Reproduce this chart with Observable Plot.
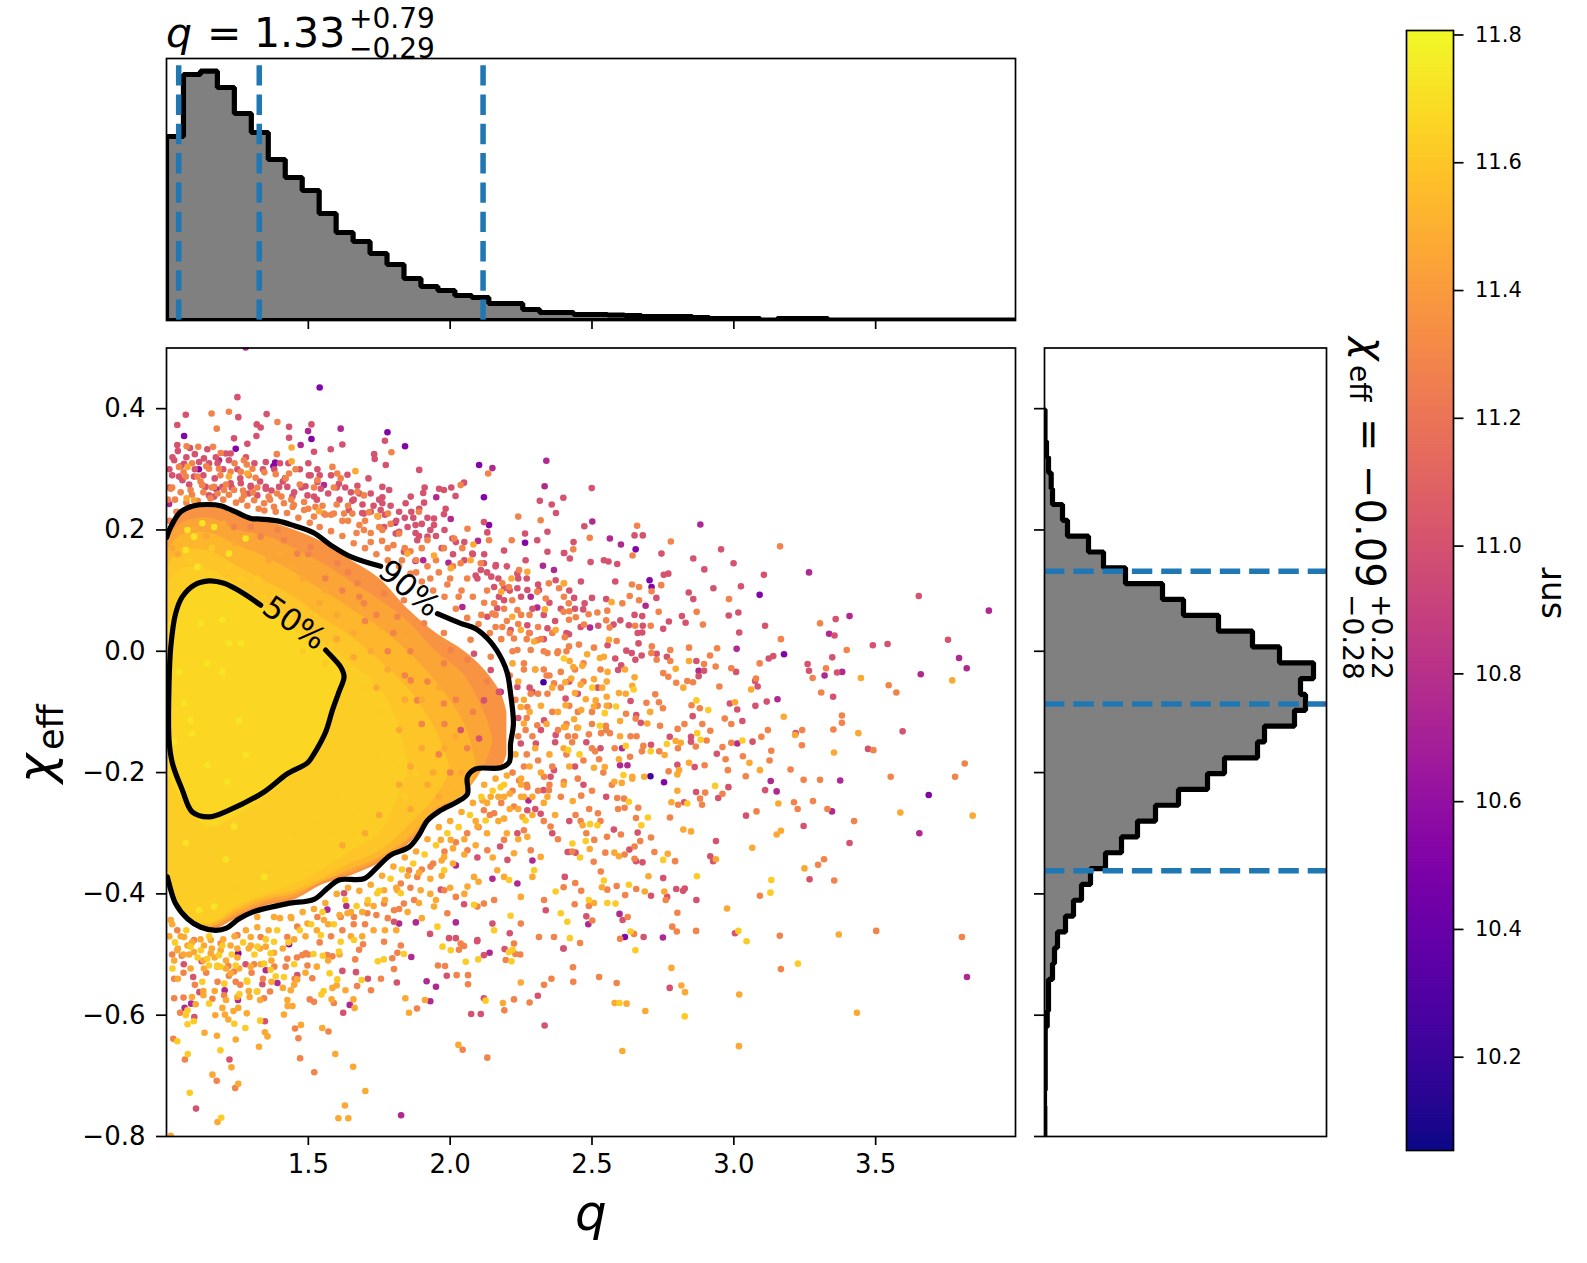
<!DOCTYPE html>
<html>
<head>
<meta charset="utf-8">
<script src="https://cdn.jsdelivr.net/npm/d3@7"></script>
<script src="https://cdn.jsdelivr.net/npm/@observablehq/plot@0.6"></script>
<style>
  html, body { margin: 0; background: #fff; }
  #page { position: relative; width: 1587px; height: 1263px; overflow: hidden; font-family: "DejaVu Sans"; }
  #page > svg, #page > div { position: absolute; }
  #page > div > svg { display: block; }
  #notes { left: 0; top: 0; pointer-events: none; }
  #notes text { font-family: "DejaVu Sans"; fill: #000; }
</style>
</head>
<body>
<div id="page">
  <div id="top" style="left:0;top:40px"></div>
  <div id="main" style="left:0;top:330px"></div>
  <div id="side" style="left:1030px;top:330px"></div>
  <div id="bar" style="left:1380px;top:0"></div>
  <svg id="notes" width="1587" height="1263">
    <text x="166" y="47" font-size="41" font-style="italic">q</text>
    <text x="207" y="47" font-size="41">=</text>
    <text x="254" y="47" font-size="41">1.33</text>
    <text x="349" y="28" font-size="28">+0.79</text>
    <text x="349" y="58" font-size="28">−0.29</text>
    <text transform="translate(1357,337) rotate(90)" font-size="40" font-style="italic">χ</text>
    <text transform="translate(1350,365) rotate(90)" font-size="28">eff</text>
    <text transform="translate(1356,418) rotate(90)" font-size="40">=</text>
    <text transform="translate(1356,465) rotate(90)" font-size="40">−0.09</text>
    <text transform="translate(1372,594) rotate(90)" font-size="28">+0.22</text>
    <text transform="translate(1343,594) rotate(90)" font-size="28">−0.28</text>
    <text transform="translate(53,783) rotate(-90)" font-size="50" font-style="italic">χ</text>
    <text transform="translate(63,750) rotate(-90)" font-size="35">eff</text>
    <text x="575" y="1230" font-size="50" font-style="italic">q</text>
    <text transform="translate(1561,619) rotate(-90)" font-size="33">snr</text>
  </svg>
</div>
<script>
// histogram heights (arbitrary count units)
const qBinStart = 1.0;
const qBinWidth = 0.0598;
const qCounts = [184,246,249.3,233,207,188,161,143,130,107,88,79,67,56,42,34,30,25,23,17,17,11,8,8,6,6,5.5,5,4,4,4,3,2,2,2,.5,2,2,2,.5,.5,.5,.5,.5,.5,.3,.3,.3,.3,.3];
const chiBinStart = 0.3986;
const chiBinWidth = 0.0261;
const chiCounts = [.5,.5,2,4,6.7,8,18,23,44,59,81,118,139,174,208,235,269,256,261,250,220,213,180,163,134,111,93,77,61,46,37,29,21,13,10,8,4,4,2.7,.7,.7,.7,.7,0,.3,.3];
const qLines = [1.043,1.327,2.116];
const chiLines = [.132,-.087,-.362];

const qTicks = [1.5,2,2.5,3,3.5];
const chiTicks = [.4,.2,0,-.2,-.4,-.6,-.8];
const snrTicks = [10.2,10.4,10.6,10.8,11,11.2,11.4,11.6,11.8];
const snrDomain = [10.054,11.807];

// contours, null = gap left for the label
const c90q = [1.001,1.015,1.05,1.097,1.144,1.191,1.238,1.297,1.332,1.391,1.45,1.52,1.579,1.649,1.755,null,1.955,2.037,2.09,2.143,2.184,2.202,2.213,2.223,2.213,2.208,2.178,2.09,2.061,2.061,2.025,1.967,1.92,1.89,1.855,1.79,1.743,1.696,1.608,1.567,1.52,1.426,1.303,1.256,1.209,1.173,1.121,1.074,1.032,1.009,1.003];
const c90chi = [.188,.205,.23,.24,.242,.24,.231,.219,.218,.215,.207,.195,.175,.156,.14,null,.062,.046,.037,.015,-.015,-.037,-.07,-.119,-.152,-.183,-.192,-.194,-.207,-.235,-.248,-.262,-.279,-.303,-.323,-.336,-.356,-.375,-.377,-.391,-.409,-.416,-.43,-.441,-.457,-.46,-.455,-.441,-.416,-.383,-.372];
const c50q = [1.332,1.262,1.203,1.15,1.097,1.056,1.032,1.015,1.009,1.009,1.021,1.056,1.091,1.15,1.215,1.344,1.426,1.497,1.52,1.561,1.585,1.608,1.626,1.614,1.567,1.561];
const c50chi = [.076,.098,.112,.116,.109,.09,.062,.007,-.053,-.147,-.185,-.229,-.265,-.273,-.263,-.232,-.202,-.184,-.169,-.133,-.097,-.067,-.042,-.026,-.001,.002];
const labelText = ["50%","90%"];
const labelQ = [1.45,1.855];
const labelChi = [.046,.103];
const labelAngle = [35,40];

// the solid core of the cloud, by colour
const bandSnr = [11.36,11.45,11.53,11.59,11.63,11.67];
const bandQ = [
  [1,1.05,1.15,1.25,1.35,1.45,1.55,1.65,1.75,1.85,1.95,2.05,2.12,2.18,2.2],
  [1,1.05,1.15,1.25,1.35,1.45,1.55,1.65,1.75,1.85,1.95,2.05,2.12,2.15],
  [1,1.05,1.15,1.25,1.35,1.45,1.55,1.65,1.75,1.85,1.95,2.05,2.09],
  [1,1.05,1.15,1.25,1.35,1.45,1.55,1.65,1.75,1.85,1.95,2],
  [1,1.05,1.15,1.25,1.35,1.45,1.55,1.65,1.75,1.8,1.85],
  [1,1.05,1.15,1.25,1.35,1.45,1.55,1.62]
];
const bandHi = [
  [.185,.225,.24,.225,.215,.2,.18,.15,.12,.07,.03,0,-.03,-.07,-.1],
  [.18,.21,.22,.2,.19,.17,.145,.115,.085,.05,0,-.04,-.1,-.14],
  [.165,.19,.195,.175,.155,.13,.1,.07,.04,0,-.05,-.12,-.18],
  [.14,.165,.165,.14,.115,.09,.055,.025,-.015,-.06,-.13,-.19],
  [.11,.135,.135,.11,.08,.05,.015,-.02,-.06,-.1,-.18],
  [.03,.09,.12,.1,.07,.035,0,-.035]
];
const bandLo = [
  [-.37,-.43,-.46,-.44,-.42,-.41,-.385,-.37,-.35,-.32,-.265,-.235,-.19,-.19,-.17],
  [-.37,-.43,-.455,-.435,-.415,-.405,-.38,-.365,-.345,-.315,-.265,-.235,-.19,-.15],
  [-.37,-.435,-.455,-.43,-.41,-.4,-.38,-.36,-.34,-.31,-.26,-.235,-.2],
  [-.37,-.435,-.45,-.425,-.405,-.395,-.375,-.35,-.33,-.29,-.24,-.2],
  [-.37,-.43,-.45,-.42,-.4,-.385,-.36,-.33,-.3,-.26,-.2],
  [-.2,-.24,-.29,-.27,-.24,-.2,-.14,-.05]
];

// samples as q,chi pairs, one list per snr level, low snr is drawn first
const snrBlue = 10.25;
const samplesBlue = [2.706,-.206,2.329,-.051];
const snrPurple = 10.52;
const samplesPurple = [2.654,.168,2.71,.106,3.091,.093,3.177,-.005,2.703,.117,2.754,-.216,3.687,-.237,2.616,-.471,1.54,.435,1.377,.305,1.114,.3,2.119,.254,2.137,.208,2.264,.179,2.102,.307,1.511,.35,1.253,-.498,1.432,-.483,1.383,.311,1.244,.334,1.062,.355,1.779,.361,1.841,.338];
const snrMagenta = 10.75;
const samplesMagenta = [3.265,.13,3.408,.058,3.336,.029,3.382,-.034,3.899,.067,3.794,-.011,3.821,-.028,3.659,-.038,3.01,.004,3.154,-.079,3.32,-.04,2.689,.075,2.602,.176,2.563,.186,2.501,.214,2.882,.209,2.876,-.032,2.493,.039,3.012,-.152,2.606,-.16,2.599,-.188,2.625,-.188,3.654,-.3,3.346,-.264,2.597,-.433,2.487,-.45,2.75,-.472,3.375,-.213,3.822,-.537,3.151,-.231,3.13,-.214,1.205,-.559,1.252,-.575,1.087,-.581,1.064,-.588,1.646,-.583,1.93,-.577,1.917,-.544,1.95,-.553,1.827,-.765,2.139,-.497,1.863,-.504,1.35,-.526,1.391,-.547,1.279,.501,2.237,-.383,2.276,-.246,1.879,-.447,1.82,-.449,2.02,-.447,2.149,-.375,1.567,-.426,1.634,-.42,2.29,-.345,2.02,-.353,2.178,-.067,1.499,.363,1.614,.367,1.473,.34,1.185,.315,1.418,.285,1.555,.274,1.009,.243,1.176,.267,1.951,.254,2.002,.218,1.806,.212,1.878,.149,1.905,.15,2.098,.182,1.994,.146,2.284,.09,2.307,.072,2.043,.073,2.327,.141,2.366,.134,2.339,.314,2.333,.272,2.149,.302];
const snrRose = 11.0;
const samplesRose = [2.499,.269,2.399,.253,2.473,.206,2.679,.191,2.65,.191,2.435,.18,2.402,.162,2.422,.153,2.542,.15,2.558,.148,2.495,.147,2.589,.144,2.745,.161,2.857,.153,2.955,.168,2.896,.135,2.999,.145,3.106,.126,3.025,.107,2.928,.104,2.841,.097,2.857,.086,2.753,.126,2.769,.128,2.727,.088,2.55,.086,2.5,.088,2.437,.088,2.474,.079,2.469,.069,2.461,.115,2.582,.115,2.982,.059,3.016,.064,3.11,.042,3.019,.031,2.817,.058,2.83,.047,2.771,.049,2.65,.06,2.677,.058,2.751,.037,2.679,.042,2.677,.031,2.661,.03,2.664,.013,2.63,.043,2.6,.051,2.576,.044,2.522,.042,2.419,.028,2.555,.01,2.621,.001,2.64,-.003,2.868,-.016,2.764,-.009,2.728,-.004,2.675,-.007,2.653,-.014,2.582,-.012,2.603,-.023,2.592,-.031,2.895,-.032,2.876,-.041,3.008,-.034,3.123,-.012,3.139,-.008,3.26,-.021,3.265,-.032,3.364,-.035,3.347,-.01,3.49,.01,3.542,.012,3.755,.019,3.652,.091,3.359,.053,3.355,.026,3.075,-.049,3.084,-.058,3.116,-.083,3.076,-.09,2.986,-.086,3.012,-.096,3.03,-.115,2.855,-.107,3.35,-.075,3.595,-.132,3.473,-.161,3.218,-.135,3.066,-.149,2.94,-.169,2.862,-.191,2.801,-.187,2.849,-.141,2.849,-.149,2.774,-.141,2.708,-.154,2.636,-.082,2.656,-.105,2.672,-.118,
2.867,-.232,2.945,-.242,2.981,-.224,3.043,-.271,3.11,-.229,3.246,-.288,3.408,-.316,2.937,-.313,2.917,-.338,2.927,-.346,2.825,-.249,2.661,-.299,2.577,-.294,2.414,-.331,2.442,-.332,2.655,-.346,2.678,-.348,2.751,-.374,2.797,-.392,2.821,-.395,2.827,-.391,2.765,-.405,2.708,-.403,2.868,-.41,3.267,-.376,3.004,-.465,2.682,-.471,2.4,-.49,2.774,-.555,2.608,-.443,2.48,-.437,2.404,-.372,2.632,-.327,
1.104,-.754,1.222,-.673,1.347,-.61,1.116,-.562,1.094,-.537,1.279,-.516,1.338,-.549,1.71,-.54,1.812,-.546,1.988,-.535,2.074,-.598,2.108,-.598,2.333,-.617,2.309,-.568,2.119,-.572,2.095,-.478,2.399,-.49,2.192,-.491,2.119,-.501,1.461,-.534,1.62,-.527,1.668,-.529,1.623,-.596,1.124,-.511,1.061,-.516,1.098,-.603,
2.272,-.262,2.237,-.3,2.319,-.268,2.176,-.322,2.302,-.152,2.366,-.196,2.372,-.138,2.354,-.207,2.329,-.229,2.419,-.331,2.337,-.427,2.21,-.465,2.149,-.449,2.096,-.476,1.996,-.473,2.02,-.473,1.929,-.466,1.802,-.446,1.967,-.393,2.049,-.417,1.626,-.399,2.096,-.34,2.202,-.344,2.237,-.059,2.29,-.067,2.407,-.078,2.331,-.114,2.249,-.152,
1.25,.419,1.068,.39,1.038,.373,1.253,.386,1.353,.391,1.318,.374,1.332,.369,1.432,.37,1.511,.374,1.432,.352,1.317,.355,1.238,.351,1.285,.342,1.038,.34,1.083,.335,1.144,.333,1.209,.326,1.226,.326,1.52,.329,1.579,.333,1.62,.341,1.77,.347,1.732,.325,1.734,.317,1.773,.307,1.891,.299,2.358,.242,2.373,.228,2.316,.248,2.307,.183,2.343,.197,2.264,.194,2.19,.166,2.119,.213,2.131,.196,1.91,.27,1.961,.268,1.978,.266,2.004,.27,2.049,.278,2.019,.256,1.861,.255,1.843,.244,1.905,.261,1.908,.245,1.863,.23,1.891,.235,1.878,.208,1.878,.195,1.943,.219,1.978,.226,1.943,.208,1.984,.235,1.761,.271,1.785,.266,1.761,.254,1.761,.244,1.691,.242,1.655,.248,1.712,.285,1.673,.273,1.608,.276,1.638,.291,1.532,.3,1.502,.29,1.476,.27,1.35,.312,1.297,.273,1.35,.271,1.021,.32,1.062,.309,1.115,.312,1.132,.318,1.174,.32,2.401,.162,2.343,.164,2.266,.15,2.372,.117,2.237,.128,2.145,.123,2.161,.142,2.096,.12,2.19,.084,2.272,.101,2.166,.071,2.343,.038,2.272,.043,2.213,.035,2.131,.057,2.102,-.144,2.037,-.13,2.119,-.081,2.172,-.067,2.143,-.031,2.084,-.004,
1.027,.315,1.044,.288,1.056,.282,1.097,.288,1.126,.274,1.138,.271,1.15,.257,1.168,.255,1.197,.271,1.226,.277,1.262,.277,1.297,.271,1.32,.257,1.35,.268,1.397,.271,1.426,.271,1.444,.255,1.497,.257,1.52,.255,1.544,.268,1.508,.29,1.532,.279,1.643,.233,1.755,.233,1.696,.227,1.72,.23,1.808,.194,1.82,.197,1.767,.205,1.837,.164,1.884,.183,1.92,.189,2.008,.186,2.078,.161,2.119,.145,2.108,.134,2.155,.106,2.19,.104,2.237,.104,2.313,.101,2.172,.09,
1.02,.29,1.05,.305,1.08,.275,1.1,.3,1.13,.29,1.17,.285,1.2,.3,1.23,.27,1.26,.285,1.29,.26,1.33,.28,1.37,.265,1.41,.28,1.45,.262,1.49,.272,1.53,.25,1.57,.26,1.61,.25,1.65,.262,1.69,.228,1.73,.24,1.77,.225,1.81,.215,1.85,.205,1.89,.19,1.93,.2,1.97,.17,2.01,.16,2.05,.15,2.09,.125,2.13,.13,2.17,.12,2.21,.1,2.25,.09,2.29,.07,2.33,.06,2.37,.05,
2.24,-.11,2.28,-.06,2.32,-.13,2.37,-.15,2.42,-.05,2.45,-.07,2.48,-.15,2.52,-.06,2.3,-.26,2.36,-.3,2.42,-.28,2.47,-.22,2.53,-.16,2.55,-.24,2.44,-.19,
1.01,.3,1.01,.27,1.04,.33,1.07,.32,1.1,.325,1.15,.31,1.18,.31,1.22,.315,1.25,.3,1.28,.32,1.31,.31,1.34,.3,1.38,.3,1.4,.31,1.43,.31,1.47,.3,1.5,.31,1.54,.29,1.58,.29,1.6,.27,1.63,.27,1.66,.25,1.68,.26,1.72,.26,1.75,.25,1.79,.24,1.82,.23,1.84,.22,1.87,.22,1.9,.21,1.92,.22,1.95,.19,1.98,.2,2.02,.18,2.05,.18,2.08,.16,2.12,.16,2.16,.14,2.2,.14,2.24,.12,2.27,.12,2.31,.11,2.35,.08,2.39,.07,2.42,.1,2.44,.07,2.46,.04,2.28,.03,2.33,.02,2.41,.03];
const snrOrange = 11.28;
const samplesOrange = [3.163,.173,2.778,.181,2.659,.207,2.492,.187,2.434,.168,2.643,.158,2.744,.109,2.641,.11,2.666,.106,2.71,.099,2.633,.091,2.666,.084,2.607,.079,2.735,.065,2.55,.051,2.554,.067,2.519,.064,2.488,.061,2.443,.056,2.419,.052,2.472,.044,2.562,.039,2.652,.042,2.707,.042,2.587,.017,2.507,.006,2.454,.011,2.419,.008,2.404,.023,2.4,.065,2.42,.066,2.418,.079,2.869,.065,2.891,.044,2.983,.086,3.304,.046,3.166,.02,3.398,.002,3.091,-.02,2.991,-.028,2.936,-.025,2.895,-.021,2.842,.006,2.916,-.007,2.941,.005,2.776,.002,2.711,.008,2.709,-.003,2.728,-.014,2.776,-.016,2.751,-.036,2.769,-.042,2.797,-.052,2.836,-.049,2.856,-.051,2.949,-.058,3.078,-.045,3.325,-.028,3.278,-.044,3.308,-.068,3.546,-.056,3.573,-.068,2.723,-.071,2.692,-.085,2.736,-.084,2.75,-.094,2.62,-.103,2.654,-.111,2.851,-.089,2.88,-.094,2.968,-.111,2.991,-.12,2.826,-.12,2.802,-.128,2.889,-.12,2.917,-.131,2.74,-.123,2.563,-.135,2.549,-.123,2.532,-.135,2.489,-.137,2.448,-.126,2.415,-.14,2.636,-.14,2.657,-.14,2.904,-.147,2.866,-.157,2.803,-.16,2.737,-.165,2.681,-.156,2.676,-.165,2.634,-.174,2.511,-.165,2.525,-.178,2.96,-.158,2.991,-.151,3.032,-.173,2.971,-.178,2.897,-.188,3.097,-.141,3.12,-.13,3.241,-.13,3.351,-.129,3.381,-.106,3.381,-.118,3.24,-.155,3.492,-.163,3.132,-.164,3.126,-.18,3.814,-.185,3.78,-.207,3.553,-.207,3.304,-.212,3.246,-.212,2.979,-.196,3.042,-.206,3.2,-.195,2.77,-.198,
2.899,-.233,2.96,-.235,2.804,-.253,2.888,-.253,2.881,-.243,3.08,-.264,3.212,-.249,3.279,-.247,3.225,-.26,3.33,-.26,3.424,-.28,2.775,-.274,2.655,-.275,2.663,-.258,2.521,-.267,2.442,-.27,2.462,-.238,2.589,-.242,2.613,-.243,2.592,-.26,2.615,-.258,2.602,-.302,2.553,-.306,2.708,-.307,2.508,-.311,2.67,-.313,2.547,-.332,2.615,-.335,2.72,-.331,2.65,-.322,2.65,-.342,2.506,-.347,2.793,-.346,3.318,-.343,3.297,-.352,3.092,-.403,3.354,-.378,2.531,-.363,2.441,-.382,2.4,-.389,2.554,-.393,2.587,-.387,2.656,-.392,2.462,-.395,2.617,-.402,2.76,-.41,2.439,-.417,2.489,-.42,2.626,-.438,2.801,-.431,2.501,-.444,2.783,-.454,2.799,-.462,2.648,-.466,2.599,-.474,2.867,-.461,3.162,-.469,3.502,-.461,3.804,-.471,2.458,-.481,2.433,-.521,2.434,-.545,2.525,-.537,2.587,-.547,3.166,-.524,
1.024,-.639,1.065,-.673,1.177,-.708,1.242,-.72,1.471,-.671,1.521,-.694,1.465,-.638,1.453,-.622,1.571,-.627,2.044,-.657,2.131,-.67,2.191,-.592,2.28,-.579,2.225,-.574,1.883,-.589,1.756,-.54,1.721,-.559,1.672,-.552,1.52,-.578,1.505,-.574,1.59,-.58,1.365,-.561,1.344,-.572,1.027,-.572,1.06,-.571,1.048,-.596,1.162,-.573,2.357,-.54,2.331,-.55,2.247,-.5,2.23,-.499,2.196,-.509,2.063,-.534,2.063,-.549,2.023,-.534,1.982,-.519,1.957,-.518,2.031,-.492,2.049,-.486,1.693,-.483,1.679,-.492,1.665,-.508,1.802,-.524,1.796,-.506,1.814,-.497,1.826,-.485,1.767,-.479,1.585,-.503,1.567,-.501,1.491,-.498,1.479,-.501,1.426,-.507,1.497,-.518,1.514,-.539,1.452,-.54,1.054,-.502,1.027,-.54,1.309,-.516,1.244,-.545,1.238,-.528,1.218,-.519,1.203,-.567,
2.284,-.07,2.343,-.07,2.366,-.053,2.39,-.034,2.272,-.092,2.307,-.122,2.266,-.13,2.331,-.207,2.243,-.213,2.272,-.224,2.348,-.229,2.401,-.215,2.225,-.256,2.119,-.262,2.155,-.267,2.26,-.295,2.19,-.311,2.131,-.328,2.061,-.328,2.284,-.328,2.354,-.289,2.331,-.41,2.249,-.449,2.155,-.41,2.119,-.416,2.096,-.421,2.02,-.405,1.979,-.394,1.931,-.355,1.855,-.361,1.884,-.372,1.826,-.383,1.837,-.416,1.873,-.41,1.802,-.427,1.767,-.416,1.708,-.432,1.661,-.438,1.614,-.438,1.532,-.438,1.461,-.454,1.426,-.471,1.332,-.471,1.25,-.468,1.191,-.482,1.097,-.476,1.038,-.46,1.99,-.432,2.037,-.482,2.313,-.471,2.366,-.471,2.225,-.482,
1.159,.392,1.22,.395,1.177,.367,1.391,.378,1.112,.337,1.071,.338,1.164,.337,1.191,.327,1.389,.325,1.793,.328,1.273,.315,1.283,.308,1.044,.304,1.068,.288,1.109,.288,1.15,.301,1.185,.301,1.226,.296,1.262,.296,1.303,.301,1.314,.286,1.385,.292,1.432,.293,1.455,.3,1.585,.304,1.602,.293,1.614,.285,1.532,.282,1.673,.263,1.696,.257,2.134,.293,2.037,.274,1.89,.23,1.714,.229,1.781,.227,1.746,.222,1.761,.2,1.696,.2,1.655,.227,1.626,.227,1.59,.227,1.555,.227,1.52,.222,1.485,.233,1.449,.241,1.414,.244,1.379,.238,1.344,.244,1.309,.249,1.273,.257,1.238,.266,1.203,.266,1.168,.271,1.126,.274,1.085,.266,1.015,.268,2.24,.222,2.319,.216,2.217,.183,2.137,.183,2.061,.202,2.014,.186,2.043,.17,1.92,.183,1.82,.194,1.978,.17,2.037,.145,2.108,.145,2.184,.112,2.207,.106,2.243,.134,2.348,.112,2.384,.104,2.401,.09,2.219,.084,2.307,.098,2.337,.087,2.155,.079,2.149,.062,2.237,.068,2.184,.04,2.307,.018,2.278,.03,2.225,.021,2.378,-.003,2.343,-.003,2.284,.002,2.237,.002,
1.461,.161,1.602,.145,1.673,.112,1.767,.095,1.837,.084,1.978,.03,2.072,.019,2.143,-.009,1.696,.079,1.814,.057,1.908,.046,2.002,.002,2.061,-.014,1.508,.172,1.414,.183,1.332,.189,1.238,.205,1.297,.205,1.391,.2,1.978,-.086,1.884,-.081,1.978,-.02,1.861,-.048,
1.01,.215,1.03,.25,1.05,.262,1.07,.245,1.09,.258,1.11,.248,1.13,.262,1.155,.252,1.18,.26,1.2,.25,1.22,.258,1.245,.245,1.265,.25,1.285,.24,1.305,.262,1.325,.235,1.345,.232,1.365,.25,1.385,.23,1.405,.255,1.425,.228,1.445,.238,1.465,.22,1.485,.246,1.505,.212,1.525,.238,1.54,.205,1.56,.225,1.58,.198,1.6,.242,1.62,.19,1.64,.215,1.66,.178,1.68,.208,1.7,.17,1.72,.195,1.74,.16,1.76,.182,1.78,.15,1.8,.175,1.82,.14,1.84,.17,1.86,.128,1.88,.15,1.9,.115,1.92,.14,1.94,.1,1.96,.13,1.98,.09,2,.12,2.02,.07,2.04,.1,2.06,.055,2.08,.09,2.1,.045,2.12,.08,2.14,.03,2.16,.06,2.18,.02,2.2,.05,2.22,0,2.24,.045,2.26,-.02,2.28,.06,2.3,-.03,2.32,.02,2.34,-.04,2.36,.03,
2.23,-.08,2.26,-.03,2.29,-.14,2.33,-.03,2.36,-.1,2.39,-.06,2.41,-.12,2.22,-.2,2.27,-.17,2.31,-.23,2.35,-.22,2.39,-.24,2.43,-.15,2.45,-.1,2.47,-.18,2.5,-.12,2.44,-.03,2.47,-.02,2.5,-.1,2.53,-.03,2.56,-.09,2.46,-.28,2.5,-.23,2.54,-.2,2.58,-.16,
1.02,-.5,1.06,-.53,1.1,-.55,1.14,-.53,1.18,-.545,1.22,-.535,1.26,-.55,1.3,-.53,1.34,-.54,1.38,-.52,1.42,-.52,1.46,-.505,1.5,-.5,1.54,-.48,1.58,-.47,1.62,-.46,1.66,-.45,1.7,-.45,1.74,-.435,1.78,-.44,1.82,-.425,1.86,-.39,1.9,-.36,1.94,-.35,1.98,-.33,2.02,-.315,2.06,-.3,2.1,-.29,2.14,-.27,2.18,-.25,2.22,-.23,
1.5,.16,1.56,.12,1.62,.1,1.68,.09,1.74,.06,1.8,.03,1.86,0,1.92,-.05,1.98,-.12,2.02,-.08,2.08,-.1,2.13,-.05,2.06,-.16,2,-.2,1.96,-.17,1.9,-.12,1.84,-.04,1.78,0,1.7,.05,1.64,.13,
1.005,.25,1.02,.27,1.035,.23,1.06,.295,1.09,.31,1.12,.28,1.14,.305,1.16,.27,1.19,.29,1.21,.275,1.24,.31,1.27,.265,1.29,.29,1.32,.27,1.345,.295,1.36,.255,1.39,.26,1.42,.285,1.44,.25,1.47,.275,1.5,.235,1.52,.27,1.55,.24,1.58,.225,1.59,.27,1.62,.215,1.64,.24,1.67,.195,1.7,.215,1.72,.18,1.75,.205,1.78,.17,1.79,.21,1.83,.15,1.86,.165,1.88,.13,1.9,.17,1.93,.12,1.95,.15,1.99,.11,2.01,.14,2.03,.09,2.06,.12,2.11,.06,2.13,.1,2.16,.04,2.19,.07,2.21,.03,2.25,.06,2.27,.02,2.31,.04,2.33,0,2.38,0,2.41,0,
2.21,-.04,2.24,-.14,2.27,-.11,2.31,-.07,2.35,-.04,2.38,-.13,2.42,-.09,2.44,-.14,2.47,-.05,2.5,-.16,2.52,-.09,2.55,-.13,2.26,-.19,2.31,-.18,2.36,-.19,2.41,-.17,2.45,-.21,2.49,-.26,2.27,-.22,2.33,-.28,2.38,-.31,2.43,-.33,2.48,-.3,2.53,-.28,2.57,-.22];
const snrAmber = 11.47;
const samplesAmber = [3.448,-.044,3.77,-.048,3.176,-.108,3.061,-.063,3.004,-.084,3.439,-.135,3.216,-.138,3.353,-.167,3.055,-.184,3.092,-.196,2.842,-.184,2.822,-.06,2.65,-.043,2.555,-.034,2.616,-.03,2.552,-.05,2.536,-.06,2.507,-.046,2.528,-.011,2.483,-.005,2.542,-.009,2.56,.019,2.569,.081,2.434,-.026,2.466,-.024,2.421,-.016,2.406,-.051,2.427,-.045,2.46,-.055,2.44,-.069,2.478,-.079,2.513,-.081,2.552,-.075,2.595,-.069,2.619,-.07,2.642,-.057,2.507,-.091,2.552,-.09,2.462,-.097,2.407,-.089,2.437,-.112,2.407,-.125,2.451,-.126,2.599,-.14,2.695,-.119,2.599,-.115,2.705,-.1,2.795,-.148,2.813,-.151,2.756,-.171,2.595,-.178,2.507,-.192,2.545,-.191,2.642,-.207,2.807,-.196,2.801,-.203,2.842,-.016,2.795,-.029,2.401,.112,
2.801,-.23,2.78,-.249,3.157,-.251,3.587,-.266,3.842,-.271,3.151,-.302,3.166,-.296,3.249,-.358,3.065,-.324,2.822,-.294,2.849,-.297,2.937,-.343,2.767,-.334,2.699,-.371,2.755,-.396,2.686,-.396,2.535,-.389,2.507,-.415,2.976,-.424,3.37,-.467,2.78,-.522,2.815,-.551,2.828,-.562,3.019,-.566,2.58,-.58,2.622,-.581,2.688,-.593,3.434,-.596,3.018,-.651,2.607,-.659,2.579,-.332,2.595,-.338,2.492,-.326,2.467,-.287,2.432,-.247,2.579,-.215,2.605,-.217,2.642,-.21,2.684,-.207,
1.015,-.799,1.18,-.776,1.641,-.77,1.606,-.77,1.629,-.749,1.701,-.725,1.658,-.685,1.595,-.664,1.253,-.713,1.229,-.686,1.162,-.698,1.326,-.652,1.356,-.635,1.347,-.628,1.244,-.64,1.178,-.634,1.134,-.629,2.029,-.649,2.186,-.58,1.911,-.575,1.855,-.596,1.842,-.572,1.426,-.575,1.444,-.585,1.427,-.585,1.414,-.599,1.283,-.597,1.218,-.607,1.206,-.599,1.197,-.588,1.172,-.6,1.236,-.593,1.253,-.588,1.293,-.57,1.32,-.561,1.13,-.567,1.103,-.582,1.663,-.588,1.582,-.574,1.659,-.574,1.631,-.559,1.6,-.551,1.585,-.555,1.549,-.621,1.474,-.616,1.438,-.559,1.461,-.541,2.249,-.546,
1.979,-.339,2.002,-.311,1.967,-.311,2.096,-.289,2.19,-.276,2.255,-.273,2.319,-.339,2.272,-.306,2.225,-.333,2.19,-.372,2.166,-.361,2.249,-.405,2.29,-.372,2.084,-.372,2.061,-.388,1.943,-.421,1.896,-.394,1.814,-.394,1.767,-.394,1.708,-.416,1.638,-.432,1.555,-.443,1.497,-.449,1.438,-.438,1.379,-.438,1.32,-.438,1.297,-.471,1.156,-.476,1.062,-.471,1.015,-.443,2.114,-.246,2.143,-.24,2.343,-.24,2.19,-.24,2.249,-.092,2.26,-.119,2.401,-.125,
1.441,.336,1.441,.313,1.666,.297,1.074,.304,2.082,.176,2.216,.12,2.18,.098,2.272,.131,2.401,.112,2.334,.069,2.372,.035,2.002,.137,1.943,.158,1.538,.231,1.285,.293,1.22,.288,1.071,.252,1.097,.249,1.743,.223,1.849,.161,2.072,.15,2.219,.057,2.249,.035,2.296,.016,
1.027,-.51,1.038,-.493,1.074,-.485,1.097,-.496,1.132,-.485,1.156,-.498,1.191,-.493,1.226,-.485,1.25,-.49,1.297,-.485,1.35,-.487,1.379,-.497,1.085,-.523,1.132,-.523,1.179,-.52,1.209,-.523,1.226,-.531,1.256,-.523,1.297,-.52,1.332,-.516,
2.22,-.02,2.24,-.05,2.26,-.08,2.28,-.1,2.3,-.03,2.32,-.09,2.34,-.12,2.36,-.06,2.23,-.17,2.25,-.21,2.28,-.19,2.3,-.16,2.32,-.2,2.35,-.17,2.38,-.1,2.4,-.16,2.26,-.24,2.29,-.27,2.33,-.25,2.37,-.27,2.4,-.22,2.42,-.19,2.24,-.26,
1.02,-.45,1.05,-.47,1.08,-.5,1.12,-.475,1.16,-.49,1.2,-.475,1.24,-.47,1.28,-.46,1.32,-.455,1.36,-.46,1.4,-.44,1.44,-.44,1.48,-.43,1.52,-.425,1.56,-.415,1.6,-.4,1.64,-.39,1.68,-.395,1.72,-.385,1.76,-.37,1.8,-.355,1.84,-.34,1.88,-.33,1.92,-.31,1.96,-.29,2,-.28,2.04,-.265,2.08,-.25,2.12,-.22,2.16,-.21,2.2,-.205,
1.04,-.54,1.09,-.57,1.13,-.56,1.17,-.56,1.21,-.575,1.25,-.57,1.29,-.56,1.33,-.575,1.37,-.545,1.41,-.555,1.45,-.55,1.49,-.53,1.53,-.52,1.57,-.51,1.61,-.5,1.65,-.47,1.69,-.47,1.73,-.46,1.77,-.46,1.81,-.46,1.85,-.43,1.89,-.415,1.93,-.4,1.97,-.37,2.01,-.35,2.05,-.335,2.09,-.32,2.13,-.3,2.17,-.28,2.21,-.26,2.25,-.24,
1.02,.17,1.1,.2,1.2,.21,1.3,.19,1.4,.16,1.48,.12,1.54,.08,1.6,.06,1.66,.03,1.72,0,1.78,-.03,1.84,-.08,1.9,-.16,1.92,-.22,1.86,-.26,1.96,-.24,2.04,-.2,1.7,-.3,1.62,-.32,1.75,-.27,
1.01,-.47,1.04,-.49,1.06,-.5,1.09,-.48,1.13,-.51,1.17,-.505,1.21,-.51,1.25,-.505,1.29,-.49,1.33,-.49,1.37,-.51,1.41,-.49,1.45,-.475,1.49,-.47,1.53,-.46,1.57,-.45,1.61,-.435,1.65,-.43,1.69,-.43,1.73,-.42,1.77,-.41,1.81,-.39,1.85,-.37,1.89,-.365,1.93,-.375,1.97,-.345,2.01,-.325,2.05,-.31,2.09,-.28,2.13,-.25,2.17,-.24,2.21,-.235,2.25,-.22,2.29,-.24,2.05,-.4,2.1,-.38,2.15,-.34,2.2,-.3,2.24,-.31,1.9,-.44,1.95,-.41,2,-.39,
1.6,.02,1.66,-.01,1.74,-.06,1.82,-.13,1.86,-.19,1.82,-.22,1.9,-.08,1.96,-.06,1.94,-.2,1.98,-.16,2.02,-.14,1.84,.02,1.76,.04,1.68,.07,1.56,.1,1.44,.14,1.36,.15,1.24,.18,1.14,.19,1.04,.16];
const snrYellow = 11.62;
const samplesYellow = [2.585,-.091,2.545,-.102,2.868,-.081,2.91,-.097,2.528,-.123,2.764,-.153,2.707,-.165,3.03,-.147,2.883,-.146,2.871,-.135,2.619,-.156,2.611,-.204,2.501,-.06,2.401,-.012,2.647,-.063,2.456,-.17,2.416,-.163,2.697,-.274,2.674,-.287,2.836,-.251,2.934,-.222,2.63,-.248,2.493,-.285,2.519,-.287,2.478,-.313,2.431,-.317,2.458,-.34,2.751,-.344,2.87,-.371,3.132,-.377,3.129,-.398,2.542,-.378,2.63,-.385,2.489,-.41,2.554,-.415,2.583,-.416,2.636,-.462,2.653,-.493,3.016,-.461,3.045,-.478,3.226,-.515,2.597,-.58,2.827,-.602,2.413,-.446,2.422,-.473,
1.082,-.728,1.193,-.769,1.038,-.643,1.075,-.664,1.19,-.658,1.278,-.621,1.239,-.614,1.33,-.609,1.074,-.615,1.096,-.61,1.068,-.6,1.074,-.592,1.15,-.581,1.257,-.565,1.318,-.561,1.204,-.548,1.283,-.543,2.125,-.576,2.216,-.511,2.207,-.496,2.22,-.492,2.099,-.508,2.055,-.512,2.002,-.493,1.973,-.487,1.837,-.499,1.766,-.508,1.745,-.511,1.688,-.542,1.575,-.531,1.546,-.566,1.554,-.56,1.602,-.541,1.608,-.495,1.551,-.502,1.518,-.499,1.45,-.516,1.414,-.537,1.385,-.536,1.367,-.525,
2.372,-.396,2.39,-.432,2.296,-.361,2.208,-.377,2.155,-.46,2.213,-.436,2.084,-.418,1.979,-.361,1.955,-.454,1.826,-.399,1.743,-.399,1.661,-.476,1.614,-.479,1.544,-.468,1.379,-.479,2.266,-.279,2.125,-.279,2.178,-.224,
1.085,-.487,1.121,-.493,1.144,-.507,1.185,-.501,1.197,-.485,1.15,-.518,1.32,-.487,1.367,-.498,1.126,-.545,1.285,-.545,1.344,-.515,1.244,-.518,1.179,-.518,1.021,-.523,
1.03,-.48,1.07,-.46,1.11,-.505,1.15,-.47,1.19,-.52,1.23,-.5,1.27,-.48,1.31,-.5,1.35,-.475,1.39,-.46,1.43,-.48,1.47,-.46,1.51,-.45,1.55,-.43,1.59,-.45,1.63,-.41,1.67,-.42,1.71,-.41,1.75,-.395,1.79,-.375,1.83,-.36,1.87,-.35,1.91,-.335,1.95,-.32,1.99,-.3,2.03,-.29,2.07,-.27,2.11,-.24,2.15,-.23,2.19,-.22,
1.03,.12,1.08,.15,1.16,.17,1.22,.14,1.32,.12,1.38,.09,1.44,.06,1.5,.03,1.58,.01,1.64,-.02,1.7,-.06,1.76,-.1,1.8,-.18,1.78,-.24,1.68,-.26,1.6,-.24,1.52,-.28,1.45,-.3,1.35,-.36,1.5,-.36,1.25,-.39,
1.7,-.12,1.74,-.17,1.76,-.2,1.72,-.28,1.66,-.3,1.58,-.3,1.84,-.24,1.88,-.2,1.66,-.08,1.62,-.06,1.56,-.02,1.48,0,1.42,.04,1.34,.09,1.26,.12,1.12,.14,1.02,.1];
const snrBright = 11.72;
const samplesBright = [1.144,-.02,1.044,-.034,1.197,-.034,1.062,-.086,1.085,-.114,1.091,-.136,1.027,-.149,1.279,-.171,1.215,-.215,1.238,-.289,1.256,-.114,1.144,-.188,1.344,-.372,1.115,-.427,1.168,-.421,1.068,-.316,1.209,-.343,1.126,.211,1.168,.205,1.074,.2,1.097,.189,1.279,.186,1.22,.161,1.068,.167,1.109,.139,1.22,.013,1.262,.013,1.197,.052,1.121,.046];

// tables for the marks
const pairs = (list, snr) => d3.range(0, list.length, 2).map(i => ({q: list[i], chi: list[i + 1], snr}));
const samples = [
  ...pairs(samplesBlue, snrBlue), ...pairs(samplesPurple, snrPurple), ...pairs(samplesMagenta, snrMagenta),
  ...pairs(samplesRose, snrRose), ...pairs(samplesOrange, snrOrange), ...pairs(samplesAmber, snrAmber),
  ...pairs(samplesYellow, snrYellow), ...pairs(samplesBright, snrBright)
];
const bands = bandSnr.flatMap((snr, b) => bandQ[b].map((q, i) => ({q, hi: bandHi[b][i], lo: bandLo[b][i], snr, b})));
const c90 = c90q.map((q, i) => ({q, chi: c90chi[i]}));
const c50 = c50q.map((q, i) => ({q, chi: c50chi[i]}));
const labels = labelText.map((text, i) => ({text, q: labelQ[i], chi: labelChi[i], angle: labelAngle[i]}));

const qBars = qCounts.map((n, i) => ({a: qBinStart + i * qBinWidth, b: qBinStart + (i + 1) * qBinWidth, n}));
const chiBars = chiCounts.map((n, i) => ({a: chiBinStart - i * chiBinWidth, b: chiBinStart - (i + 1) * chiBinWidth, n}));
const qOutline = [{x: qBars[0].a, y: 0}, ...qBars.flatMap(d => [{x: d.a, y: d.n}, {x: d.b, y: d.n}]), {x: qBars[qBars.length - 1].b, y: 0}, {x: qBars[0].a, y: 0}];
const chiOutline = [{y: chiBars[0].a, x: 0}, ...chiBars.flatMap(d => [{y: d.a, x: d.n}, {y: d.b, x: d.n}]), {y: -.8, x: 0}];

const qDomain = [1, 3.993];
const chiDomain = [-.8, .5];
const grey = "#808080";
const blue = "#1f77b4";
const lineW = 5.2;
const font = {fontFamily: "DejaVu Sans", background: "transparent", overflow: "visible"};
const fmt = d3.format(".1f");

// top histogram
const topPlot = Plot.plot({
  width: 1030, height: 300,
  marginLeft: 166, marginRight: 15, marginTop: 18, marginBottom: 20,
  style: font,
  x: {domain: qDomain, axis: null},
  y: {domain: [0, 262], axis: null},
  marks: [
    Plot.areaY(qOutline.slice(0, -1), {x: "x", y1: 0, y2: "y", fill: grey, clip: true}),
    Plot.line(qOutline, {x: "x", y: "y", stroke: "black", strokeWidth: lineW, strokeLinejoin: "miter", clip: true}),
    Plot.ruleX(qLines, {x: d => d, y1: 0, y2: 255, stroke: blue, strokeWidth: 5.5, strokeDasharray: "20.4,8.9"}),
    Plot.axisX({ticks: qTicks, tickFormat: () => "", tickSize: 9, strokeWidth: 1.7, stroke: "black", label: null}),
    Plot.frame({stroke: "black", strokeWidth: 1.7})
  ]
});
document.getElementById("top").append(topPlot);

// main scatter
const mainPlot = Plot.plot({
  width: 1030, height: 880,
  marginLeft: 166, marginRight: 15, marginTop: 17.5, marginBottom: 74,
  style: font,
  x: {domain: qDomain, axis: null},
  y: {domain: chiDomain, axis: null},
  color: {type: "linear", scheme: "plasma", domain: snrDomain},
  marks: [
    Plot.areaY(bands, {x: "q", y1: "lo", y2: "hi", z: "b", fill: "snr", curve: "catmull-rom", clip: true}),
    Plot.dot(samples, {x: "q", y: "chi", fill: "snr", r: 3.3, clip: true}),
    Plot.line(c90, {x: "q", y: "chi", stroke: "black", strokeWidth: lineW, curve: "catmull-rom", clip: true}),
    Plot.line(c50, {x: "q", y: "chi", stroke: "black", strokeWidth: lineW, curve: "catmull-rom", clip: true}),
    Plot.text(labels, {x: "q", y: "chi", text: "text", rotate: "angle", fontSize: 31, fill: "black"}),
    Plot.axisX({ticks: qTicks, tickFormat: fmt, tickSize: 9, tickPadding: 9, fontSize: 26, strokeWidth: 1.7, stroke: "black", fill: "black", label: null}),
    Plot.axisY({ticks: chiTicks, tickFormat: fmt, tickSize: 10, tickPadding: 11, fontSize: 26, strokeWidth: 1.7, stroke: "black", fill: "black", label: null}),
    Plot.frame({stroke: "black", strokeWidth: 1.7})
  ]
});
document.getElementById("main").append(mainPlot);

// right histogram
const sidePlot = Plot.plot({
  width: 310, height: 880,
  marginLeft: 14, marginRight: 14, marginTop: 17.5, marginBottom: 74,
  style: font,
  x: {domain: [0, 282], axis: null},
  y: {domain: chiDomain, axis: null},
  marks: [
    Plot.areaX(chiOutline, {y: "y", x1: 0, x2: "x", fill: grey, clip: true}),
    Plot.line(chiOutline, {x: "x", y: "y", stroke: "black", strokeWidth: lineW, strokeLinejoin: "miter", clip: true}),
    Plot.ruleY(chiLines, {y: d => d, x1: 0, x2: 282, stroke: blue, strokeWidth: 5.5, strokeDasharray: "20.4,8.9"}),
    Plot.axisY({ticks: chiTicks, tickFormat: () => "", tickSize: 10, strokeWidth: 1.7, stroke: "black", label: null}),
    Plot.frame({stroke: "black", strokeWidth: 1.7})
  ]
});
document.getElementById("side").append(sidePlot);

// colour bar
const rampStep = 0.005;
const ramp = d3.range(snrDomain[0], snrDomain[1], rampStep);
const barPlot = Plot.plot({
  width: 180, height: 1263,
  marginLeft: 26, marginRight: 107, marginTop: 30, marginBottom: 113,
  style: font,
  x: {domain: [0, 1], axis: null},
  y: {domain: snrDomain, axis: null},
  color: {type: "linear", scheme: "plasma", domain: snrDomain},
  marks: [
    Plot.rect(ramp, {x1: 0, x2: 1, y1: d => d, y2: d => d + rampStep * 1.5, fill: d => d, clip: true}),
    Plot.axisY({anchor: "right", ticks: snrTicks, tickFormat: fmt, tickSize: 9.5, tickPadding: 12, fontSize: 21, strokeWidth: 1.7, stroke: "black", fill: "black", label: null}),
    Plot.frame({stroke: "black", strokeWidth: 1.7})
  ]
});
document.getElementById("bar").append(barPlot);
</script>
</body>
</html>
